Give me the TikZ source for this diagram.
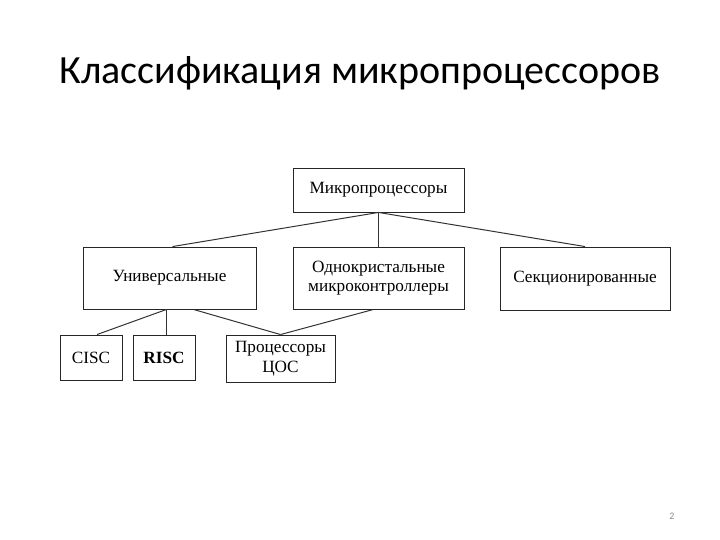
\documentclass[tikz,border=0pt]{standalone}
\usepackage{fontspec}
\setmainfont{Liberation Serif}
\newfontfamily\titlefont{Carlito}
\usetikzlibrary{calc}
\begin{document}
\begin{tikzpicture}[x=1pt,y=-1pt,
  box/.style={draw=black!85,line width=0.9pt,fill=white,inner sep=2pt,align=center,font=\fontsize{17.2}{19.5}\selectfont},
  link/.style={draw=black!80,line width=1pt}]
\useasboundingbox[fill=white] (0,0) rectangle (720,540);
\node[anchor=base,font=\titlefont\fontsize{40}{44}\selectfont] (title) at (360,84) {Классификация микропроцессоров};
\node[font=\titlefont\fontsize{10}{12}\selectfont,text=black!45] (pg) at (672,516) {2};
\node[box,minimum width=171,minimum height=44] (mp) at (378.5,190) {Микропроцессоры};
\node[box,minimum width=173,minimum height=62] (un) at (169.5,278) {Универсальные};
\node[box,minimum width=171,minimum height=62] (od) at (378.5,278) {Однокристальные\\микроконтроллеры};
\node[box,minimum width=170,minimum height=63] (sek) at (585,278.5) {Секционированные};
\node[box,minimum width=62,minimum height=45] (cisc) at (91,357.5) {CISC};
\node[box,minimum width=62,minimum height=45] (risc) at (164,357.5) {\bfseries RISC};
\node[box,minimum width=109,minimum height=47] (dsp) at (280.5,358.5) {Процессоры\\ЦОС};
\coordinate (ub) at ($(un.south)+(-3,0)$);
\coordinate (rt) at (ub |- risc.north);
\draw[link] (mp.south) -- ($(un.north)+(3,0)$);
\draw[link] (mp.south) -- (od.north);
\draw[link] (mp.south) -- (sek.north);
\draw[link] (ub) -- ($(cisc.north)+(6,0)$);
\draw[link] (ub) -- (rt);
\draw[link] ($(un.south)+(24,0)$) -- (dsp.north);
\draw[link] ($(od.south)+(-5,0)$) -- (dsp.north);
\end{tikzpicture}
\end{document}
